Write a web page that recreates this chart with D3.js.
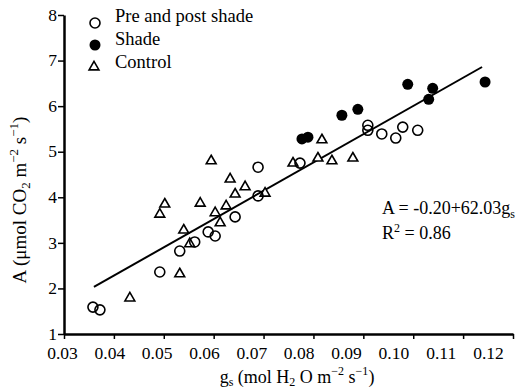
<!DOCTYPE html>
<html lang="en">
  <head>
    <meta charset="utf-8" />
    <title>A vs gs</title>
    <script src="https://d3js.org/d3.v7.js"></script>
    <style>
      body { margin: 0; background: #fff; }
      text { font-family: "Liberation Serif", "Times New Roman", serif; fill: #000; }
    </style>
  </head>
  <body>
    <div id="graph"></div>
    <script>

    // data
    var preGs  = [0.0358, 0.0372, 0.0492, 0.0532, 0.0562, 0.0589, 0.0603, 0.0643, 0.0689, 0.0689, 0.0773, 0.0909, 0.0909, 0.0937, 0.0965, 0.0979, 0.1009];
    var preA   = [1.59, 1.53, 2.36, 2.82, 3.02, 3.24, 3.15, 3.57, 4.03, 4.66, 4.75, 5.58, 5.47, 5.39, 5.30, 5.54, 5.47];
    var shadeGs = [0.0777, 0.0789, 0.0857, 0.0889, 0.0989, 0.1039, 0.1031, 0.1144];
    var shadeA  = [5.28, 5.32, 5.80, 5.93, 6.48, 6.39, 6.15, 6.53];
    var ctrlGs = [0.0432, 0.0492, 0.0502, 0.0532, 0.0540, 0.0552, 0.0573, 0.0595, 0.0603, 0.0613, 0.0625, 0.0633, 0.0643, 0.0663, 0.0703, 0.0759, 0.0809, 0.0817, 0.0837, 0.0879];
    var ctrlA  = [1.81, 3.65, 3.87, 2.34, 3.30, 3.00, 3.89, 4.82, 3.68, 3.46, 3.83, 4.42, 4.09, 4.25, 4.11, 4.77, 4.88, 5.28, 4.82, 4.88];

    var xTicks = [0.03, 0.04, 0.05, 0.06, 0.07, 0.08, 0.09, 0.10, 0.11, 0.12];
    var yTicks = [1, 2, 3, 4, 5, 6, 7, 8];
    var fitRange = [0.036, 0.1138];
    var fitA = -0.20, fitB = 62.03;
    var legendNames = ["Pre and post shade", "Shade", "Control"];

    var serif = "Liberation Serif";
    var w = 521, h = 390;

    var svg = d3.select("#graph")
      .append("svg")
        .attr("width", w)
        .attr("height", h)
        .attr("font-family", serif);

    // scales (the scan's tick labels sit slightly left of their tick marks)
    var x = d3.scaleLinear().domain([0.03, 0.12]).range([64, 513]);
    var xLab = d3.scaleLinear().domain([0.03, 0.12]).range([62, 488]);
    var y = d3.scaleLinear().domain([1, 8]).range([334, 15]);

    // axes
    var xAxis = svg.append("g")
      .attr("transform", "translate(0,334)")
      .call(d3.axisBottom(x).tickValues(xTicks).tickSize(5).tickSizeOuter(0).tickFormat(""));
    xAxis.select(".domain").attr("stroke-width", 2.5);
    xAxis.selectAll(".tick line").attr("stroke-width", 1.5);

    svg.append("g")
      .attr("transform", "translate(0,340)")
      .call(d3.axisBottom(xLab).tickValues(xTicks).tickSize(0).tickFormat(d3.format(".2f")))
      .attr("font-family", serif)
      .call(g => g.select(".domain").remove())
      .selectAll("text")
        .attr("font-family", serif)
        .attr("font-size", 17.5)
        .attr("dy", "0.9em");

    var yAxis = svg.append("g")
      .attr("transform", "translate(64,0)")
      .call(d3.axisLeft(y).tickValues(yTicks).tickSize(6).tickSizeOuter(0).tickFormat(d3.format("d")))
      .attr("font-family", serif);
    yAxis.select(".domain").attr("stroke-width", 2.5);
    yAxis.selectAll(".tick line").attr("stroke-width", 1.5);
    yAxis.selectAll("text").attr("font-family", serif).attr("font-size", 17.5).attr("x", -7).attr("dy", "0.3em");

    // regression line
    svg.append("line")
      .attr("x1", x(fitRange[0]))
      .attr("y1", y(fitA + fitB * fitRange[0]))
      .attr("x2", x(fitRange[1]))
      .attr("y2", y(fitA + fitB * fitRange[1]))
      .attr("stroke", "#000")
      .attr("stroke-width", 2);

    // points
    var tri = d3.symbol().type(d3.symbolTriangle).size(42);

    svg.selectAll(".ctrl")
      .data(ctrlGs.map((g, i) => [g, ctrlA[i]]))
      .join("path")
        .attr("class", "ctrl")
        .attr("d", tri)
        .attr("transform", d => `translate(${x(d[0])},${y(d[1]) + 1})`)
        .attr("fill", "#fff")
        .attr("stroke", "#000")
        .attr("stroke-width", 1.6);

    svg.selectAll(".pre")
      .data(preGs.map((g, i) => [g, preA[i]]))
      .join("circle")
        .attr("class", "pre")
        .attr("cx", d => x(d[0]))
        .attr("cy", d => y(d[1]))
        .attr("r", 5)
        .attr("fill", "none")
        .attr("stroke", "#000")
        .attr("stroke-width", 1.6);

    svg.selectAll(".shade")
      .data(shadeGs.map((g, i) => [g, shadeA[i]]))
      .join("circle")
        .attr("class", "shade")
        .attr("cx", d => x(d[0]))
        .attr("cy", d => y(d[1]))
        .attr("r", 5.5)
        .attr("fill", "#000");

    // legend
    var legend = svg.append("g").attr("transform", "translate(95,0)");
    legend.append("circle").attr("cx", 0).attr("cy", 23).attr("r", 5)
      .attr("fill", "none").attr("stroke", "#000").attr("stroke-width", 1.6);
    legend.append("circle").attr("cx", 0).attr("cy", 45).attr("r", 5.5).attr("fill", "#000");
    legend.append("path").attr("d", tri).attr("transform", "translate(-1,67)")
      .attr("fill", "#fff").attr("stroke", "#000").attr("stroke-width", 1.6);
    legend.selectAll(".lab")
      .data(legendNames)
      .join("text")
        .attr("class", "lab")
        .attr("x", 20)
        .attr("y", (d, i) => 22 + i * 23)
        .attr("font-size", 18.5)
        .text(d => d);

    // equation
    var eq = svg.append("text").attr("x", 382).attr("y", 214).attr("font-size", 18);
    eq.append("tspan").text("A = -0.20+62.03g");
    eq.append("tspan").attr("font-size", 12).attr("dy", 4).text("s");
    var r2 = svg.append("text").attr("x", 382).attr("y", 239).attr("font-size", 18);
    r2.append("tspan").text("R");
    r2.append("tspan").attr("font-size", 12).attr("dy", -7).text("2");
    r2.append("tspan").attr("dy", 7).text(" = 0.86");

    // x label
    var xl = svg.append("text").attr("x", 297).attr("y", 383).attr("text-anchor", "middle").attr("font-size", 18);
    xl.append("tspan").text("g");
    xl.append("tspan").attr("font-size", 12).attr("dy", 3).text("s");
    xl.append("tspan").attr("dy", -3).text(" (mol H");
    xl.append("tspan").attr("font-size", 12).attr("dy", 3).text("2");
    xl.append("tspan").attr("dy", -3).text(" O m");
    xl.append("tspan").attr("font-size", 12).attr("dy", -8).text("\u22122");
    xl.append("tspan").attr("dy", 8).text(" s");
    xl.append("tspan").attr("font-size", 12).attr("dy", -8).text("\u22121");
    xl.append("tspan").attr("dy", 8).text(")");

    // y label
    var yl = svg.append("text").attr("transform", "translate(26,200) rotate(-90)").attr("text-anchor", "middle").attr("font-size", 19);
    yl.append("tspan").text("A (\u03bcmol CO");
    yl.append("tspan").attr("font-size", 13).attr("dy", 4).text("2");
    yl.append("tspan").attr("dy", -4).text(" m");
    yl.append("tspan").attr("font-size", 13).attr("dy", -8).text("\u22122");
    yl.append("tspan").attr("dy", 8).text(" s");
    yl.append("tspan").attr("font-size", 13).attr("dy", -8).text("\u22121");
    yl.append("tspan").attr("dy", 8).text(")");

    </script>
  </body>
</html>
